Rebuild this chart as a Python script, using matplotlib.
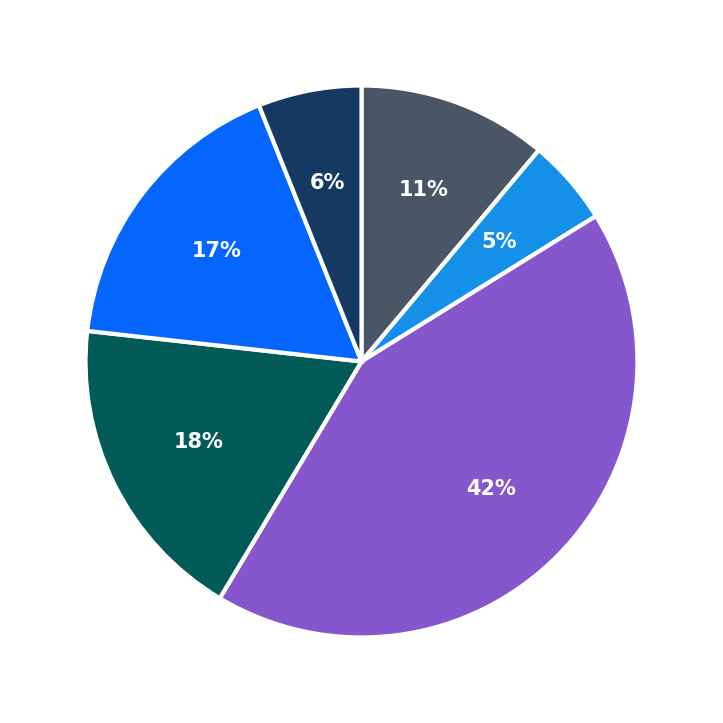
import matplotlib
matplotlib.use("Agg")
import matplotlib.pyplot as plt

labels = ["A", "B", "C", "D", "E", "F"]
values = [11, 5, 42, 18, 17, 6]
colors = ["#4a5565", "#1490e8", "#8657cc", "#025a59", "#0466ff", "#143a64"]

fig = plt.figure(figsize=(7.23, 7.23), dpi=100)
ax = fig.add_axes([0, 0, 1, 1])
wedges, texts, autotexts = ax.pie(
    values, colors=colors, startangle=90, counterclock=False,
    autopct=lambda p: f"{p:.0f}%", pctdistance=0.66, radius=1,
    wedgeprops=dict(edgecolor="white", linewidth=3),
    textprops=dict(color="white", fontsize=15, fontweight="bold"))
ax.set_xlim(-1.31, 1.31)
ax.set_ylim(-1.31, 1.31)
ax.set_aspect("equal")
ax.axis("off")
fig.savefig("out.png", dpi=100, facecolor="white")
